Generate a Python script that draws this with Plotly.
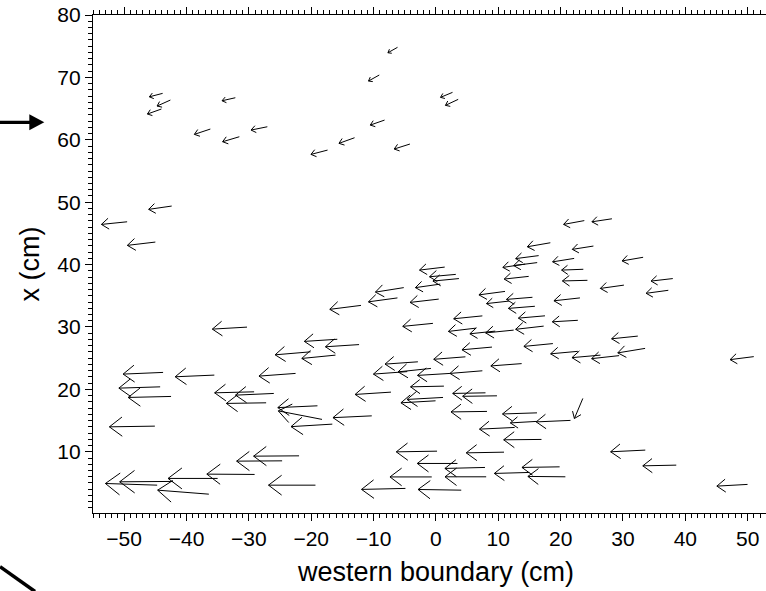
import numpy as np
import plotly.graph_objects as go

# ---- data: arrow tails (cm) and vector components (cm) ----
x_tail = [-43.83, -42.59, -44.03, -32.17, -36.18, -31.53, -27.04, -6.16, -9.09, 2.66, 3.57, -8.24, -13.05, -17.38, -4.17, -42.38, -49.53, -45.00, -30.30,
          23.80, 28.23, 18.35, 25.26, 16.48, 16.24, 14.31, 22.17, 33.23, 23.64, 24.30, 30.15, 37.99, 37.27, 14.88, 1.41, 3.19, 3.69, 0.69, -5.16, -6.17, 0.45, -12.02, 11.08, 11.70, 15.48, 15.87, 17.49, 23.10, 22.76, 7.45, 6.46, 9.51, 12.47, 17.28, -0.48, 32.38, -15.82, -12.33, 8.99, 18.76, 22.76, 26.39, 29.38, 33.55, 50.98,
          -20.10, -16.11, -43.76, -35.54, -22.51, -44.23, -42.48, -29.16, -26.00, -27.23, -19.00, -18.27, -16.62, -45.08, -24.67, -21.95, -29.08, -35.01, -42.16, -44.71, -36.42, -19.32,
          -2.89, 4.73, 13.75, -4.60, -0.80, 2.29, 7.45, 1.28, -7.21, 7.95, 9.79, 1.14, -0.06, 8.19, -10.29, 16.21, 16.19, 21.58, 12.63, 16.93, 23.56, 0.18, 10.92, 33.58, 3.45, 7.87, 19.84, 38.55, 15.00, -0.67, 8.06, 20.76, -4.89, 4.06, 49.98]
y_tail = [67.44, 66.37, 64.93, 66.74, 61.72, 60.49, 62.09, 74.82, 70.38, 67.60, 66.48, 63.16, 60.33, 58.35, 59.32, 49.38, 46.86, 43.61, 29.98,
          47.05, 47.34, 43.50, 42.97, 41.44, 40.32, 40.08, 40.99, 41.17, 39.25, 37.48, 36.71, 37.76, 35.88, 38.11, 39.60, 38.43, 37.76, 36.87, 36.31, 34.66, 34.47, 33.46, 35.70, 34.15, 34.76, 33.32, 31.79, 34.66, 31.07, 31.78, 29.82, 29.34, 29.50, 30.14, 30.58, 28.54, 28.03, 27.18, 26.78, 27.34, 26.10, 25.49, 25.41, 26.57, 25.25,
          26.02, 25.49, 22.72, 22.29, 22.56, 20.41, 18.87, 19.61, 19.35, 17.85, 17.37, 15.19, 14.43, 14.11, 8.55, 9.35, 6.37, 5.73, 5.25, 4.65, 3.21, 4.65,
          24.42, 25.22, 24.13, 22.85, 23.36, 22.56, 22.98, 20.52, 19.56, 19.45, 18.97, 18.71, 18.17, 16.47, 15.76, 16.24, 14.87, 15.03, 13.90, 11.98, 18.55, 10.10, 9.94, 10.27, 8.13, 7.49, 7.59, 7.86, 6.69, 5.97, 5.99, 5.99, 4.13, 3.85, 4.77]
u = [-2.13, -2.13, -2.24, -2.13, -2.56, -2.68, -2.61, -1.54, -1.72, -1.92, -2.04, -2.29, -2.50, -2.66, -2.52, -3.69, -4.12, -4.49, -5.56,
     -3.32, -3.21, -3.69, -3.38, -3.69, -3.77, -3.57, -3.45, -3.37, -3.48, -4.01, -3.78, -3.48, -3.56, -3.93, -4.04, -4.22, -4.17, -3.98, -4.54, -4.65, -4.60, -5.00, -4.18, -3.59, -4.17, -4.25, -4.26, -4.17, -4.09, -4.60, -4.46, -4.06, -4.49, -4.49, -4.84, -4.20, -5.29, -5.39, -4.81, -4.65, -4.36, -4.57, -4.41, -4.38, -3.80,
     -5.69, -5.40, -6.41, -6.28, -5.87, -6.62, -6.88, -6.33, -6.14, -6.38, -6.36, -7.01, -6.62, -7.29, -7.29, -7.29, -7.66, -7.95, -8.56, -8.30, -8.21, -7.53,
     -5.27, -5.08, -4.94, -5.42, -5.27, -5.24, -5.19, -5.35, -5.75, -5.26, -5.50, -5.77, -5.55, -5.77, -6.22, -5.53, -4.25, -5.50, -5.64, -6.06, -1.35, -6.54, -6.06, -5.56, -6.44, -6.43, -6.04, -5.37, -5.63, -6.70, -6.60, -6.01, -7.04, -6.92, -4.92]
v = [-0.55, -0.96, -0.80, -0.48, -0.85, -0.80, -0.53, -0.87, -0.96, -0.80, -0.96, -0.80, -0.90, -0.69, -0.80, -0.53, -0.42, -0.53, -0.32,
     -0.61, -0.48, -0.64, -0.53, -0.48, -0.48, -0.53, -0.55, -0.58, -0.13, -0.10, -0.53, -0.40, -0.48, -0.43, -0.48, -0.38, -0.40, -0.56, -0.72, -0.63, -0.53, -0.63, -0.55, -0.40, -0.34, -0.34, -0.37, -0.46, -0.24, -0.46, -0.53, -0.43, -0.45, -0.51, -0.48, -0.43, -0.34, -0.35, -0.43, -0.45, -0.40, -0.40, -0.48, -0.72, -0.48,
     -0.48, -0.53, -0.27, -0.27, -0.43, -0.21, -0.16, -0.16, -0.27, -0.10, -0.29, 1.36, -0.40, -0.11, -0.05, -0.05, 0.05, 0.00, -0.06, 0.27, 0.64, 0.00,
     -0.37, -0.40, -0.37, -0.40, -0.55, -0.32, -0.42, -0.11, -0.37, -0.10, -0.08, -0.32, -0.32, -0.08, -0.29, -0.18, -0.24, -0.24, -0.27, -0.06, -3.21, -0.11, -0.11, -0.27, 0.00, -0.16, -0.10, -0.11, -0.16, 0.00, 0.00, 0.06, -0.16, 0.11, -0.27]

x_tickvals = [-50, -40, -30, -20, -10, 0, 10, 20, 30, 40, 50]
y_tickvals = [10, 20, 30, 40, 50, 60, 70, 80]
x_title = "western boundary (cm)"
y_title = "x (cm)"

assert len(x_tail) == len(y_tail) == len(u) == len(v)

# ---- quiver geometry (arrowheads scale with arrow length) ----
HEAD_FRAC = 0.35
HEAD_ANG = np.deg2rad(37)
xt, yt, uu, vv = map(np.asarray, (x_tail, y_tail, u, v))
xh, yh = xt + uu, yt + vv
L = np.hypot(uu, vv)
th = np.arctan2(vv, uu)
lb = HEAD_FRAC * L
b1x = xh - lb * np.cos(th + HEAD_ANG)
b1y = yh - lb * np.sin(th + HEAD_ANG)
b2x = xh - lb * np.cos(th - HEAD_ANG)
b2y = yh - lb * np.sin(th - HEAD_ANG)

px, py = [], []
for i in range(len(xt)):
    px += [xt[i], xh[i], None, b1x[i], xh[i], b2x[i], None]
    py += [yt[i], yh[i], None, b1y[i], yh[i], b2y[i], None]

fig = go.Figure(go.Scatter(x=px, y=py, mode="lines",
                           line=dict(color="black", width=1),
                           hoverinfo="skip", showlegend=False))

FONT = "Liberation Sans, Arial, sans-serif"
axis_common = dict(showgrid=False, zeroline=False, showline=True,
                   linecolor="black", linewidth=1.3,
                   ticks="outside", ticklen=7, tickwidth=1, tickcolor="black",
                   tickfont=dict(family=FONT, size=21, color="black"))

fig.update_layout(
    width=766, height=591,
    margin=dict(l=93, r=0, t=15, b=78),
    paper_bgcolor="white", plot_bgcolor="white",
    xaxis=dict(range=[-55, 52.94], tickmode="array", tickvals=x_tickvals,
               mirror="ticks",
               minor=dict(dtick=1, tick0=0, ticks="outside", ticklen=4, tickcolor="black"),
               **axis_common),
    yaxis=dict(range=[0.19, 80], tickmode="array", tickvals=y_tickvals,
               minor=dict(dtick=1, tick0=0, ticks="outside", ticklen=4, tickcolor="black"),
               **axis_common),
    annotations=[
        dict(text=x_title, x=0, xref="x", y=-0.118, yref="paper",
             xanchor="center", yanchor="middle", showarrow=False,
             font=dict(family=FONT, size=27, color="black")),
        dict(text=y_title, x=-0.093, xref="paper", y=0.5, yref="paper",
             textangle=-90, xanchor="center", yanchor="middle", showarrow=False,
             font=dict(family=FONT, size=27, color="black")),
    ],
    shapes=[
        # thick pointer arrow outside the left axis
        dict(type="line", xref="paper", yref="paper", x0=-0.1382, x1=-0.0921,
             y0=0.7845, y1=0.7845, line=dict(color="black", width=3.3)),
        dict(type="path", xref="paper", yref="paper",
             path="M -0.09465 0.8006 L -0.07236 0.7845 L -0.09465 0.7685 Z",
             fillcolor="black", line=dict(color="black", width=0)),
        # diagonal stroke bottom-left
        dict(type="line", xref="paper", yref="paper", x0=-0.1382, y0=-0.1078,
             x1=-0.0862, y1=-0.1576, line=dict(color="black", width=3.5)),
    ],
)

fig.write_html("out.html")
